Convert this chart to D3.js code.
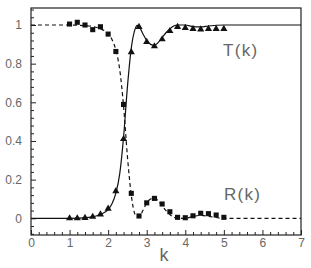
<!DOCTYPE html>
<html>
<head>
<meta charset="utf-8">
<script src="https://d3js.org/d3.v7.min.js"></script>
<style>
  body { margin: 0; background: #fff; }
  text { font-family: "Liberation Sans", Arial, sans-serif; }
</style>
</head>
<body>
<div id="chart"></div>
<script>
// measured points
const kPts = [1.0, 1.2, 1.4, 1.6, 1.8, 2.0, 2.2, 2.4, 2.6, 2.8, 3.0, 3.2, 3.4, 3.6, 3.8, 4.0, 4.2, 4.4, 4.6, 4.8, 5.0];
const tPts = [0.0, 0.0, 0.002, 0.008, 0.02, 0.05, 0.14, 0.41, 0.86, 0.99, 0.913, 0.89, 0.926, 0.969, 0.99, 0.985, 0.98, 0.977, 0.98, 0.98, 0.98];
const rPts = [1.005, 1.014, 1.0, 0.976, 0.991, 0.953, 0.863, 0.589, 0.129, 0.012, 0.08, 0.103, 0.074, 0.034, 0.005, 0.003, 0.013, 0.026, 0.024, 0.017, 0.005];

// theory curves
const kCurveT = [0, 0.5, 1.0, 1.5, 1.8, 2.0, 2.1, 2.2, 2.3, 2.4, 2.5, 2.6, 2.7, 2.75, 2.8, 2.9, 3.0, 3.1, 3.2, 3.3, 3.4, 3.5, 3.6, 3.7, 3.8, 4.0, 4.2, 4.4, 4.6, 5.0, 6.0, 7.0];
const tCurve = [0, 0, 0, 0.005, 0.02, 0.045, 0.075, 0.13, 0.23, 0.42, 0.68, 0.88, 0.98, 0.998, 0.993, 0.955, 0.92, 0.9, 0.895, 0.91, 0.935, 0.96, 0.98, 0.995, 1.0, 1.0, 0.992, 0.99, 0.995, 1.0, 1.0, 1.0];
const kCurveR = [0, 0.5, 1.0, 1.5, 1.8, 2.0, 2.1, 2.2, 2.3, 2.4, 2.5, 2.6, 2.7, 2.8, 2.9, 3.0, 3.1, 3.2, 3.3, 3.4, 3.5, 3.6, 3.7, 3.8, 4.0, 4.2, 4.4, 4.6, 5.0, 6.0, 7.0];
const rCurve = [1.0, 1.0, 1.0, 0.995, 0.98, 0.955, 0.925, 0.87, 0.77, 0.58, 0.32, 0.12, 0.02, 0.005, 0.04, 0.08, 0.1, 0.105, 0.09, 0.065, 0.04, 0.02, 0.005, 0.0, 0.0, 0.01, 0.015, 0.01, 0.0, 0.0, 0.0];

const xMajor = [0, 1, 2, 3, 4, 5, 6, 7];
const yMajor = [0, 0.2, 0.4, 0.6, 0.8, 1];

const width = 311, height = 268;
const margin = {top: 8, right: 10, bottom: 33, left: 31};

const svg = d3.select("#chart").append("svg")
    .attr("width", width)
    .attr("height", height);

const x = d3.scaleLinear().domain([0, 7]).range([margin.left, width - margin.right]);
const y = d3.scaleLinear().domain([-0.0864, 1.088]).range([height - margin.bottom, margin.top]);

// minor ticks
const xMinor = d3.range(0, 7.001, 0.2).filter(v => Math.abs(v - Math.round(v)) > 0.01);
const yMinor = d3.range(-0.08, 1.081, 0.04).filter(v => Math.abs(v * 5 - Math.round(v * 5)) > 0.01);

svg.append("g")
    .attr("transform", `translate(0,${height - margin.bottom})`)
    .call(d3.axisBottom(x).tickValues(xMinor).tickSize(-3).tickFormat(""))
    .call(g => g.select(".domain").remove());

svg.append("g")
    .attr("transform", `translate(${margin.left},0)`)
    .call(d3.axisLeft(y).tickValues(yMinor).tickSize(-3).tickFormat(""))
    .call(g => g.select(".domain").remove());

const xAxis = svg.append("g")
    .attr("transform", `translate(0,${height - margin.bottom})`)
    .call(d3.axisBottom(x).tickValues(xMajor).tickSize(-5).tickPadding(3).tickFormat(d3.format("d")));
xAxis.select(".domain").remove();
xAxis.selectAll("text").attr("font-size", 12).attr("fill", "#666");

const yAxis = svg.append("g")
    .attr("transform", `translate(${margin.left},0)`)
    .call(d3.axisLeft(y).tickValues(yMajor).tickSize(-5).tickPadding(9).tickFormat(d => d === 0 || d === 1 ? d : d3.format(".1f")(d)));
yAxis.select(".domain").remove();
yAxis.selectAll("text").attr("font-size", 12).attr("fill", "#666");

svg.selectAll(".tick line").attr("stroke", "#222");

// frame
svg.append("rect")
    .attr("x", margin.left)
    .attr("y", margin.top)
    .attr("width", width - margin.left - margin.right)
    .attr("height", height - margin.top - margin.bottom)
    .attr("fill", "none")
    .attr("stroke", "#222")
    .attr("stroke-width", 1.2);

const line = d3.line().x(d => x(d[0])).y(d => y(d[1])).curve(d3.curveMonotoneX);

svg.append("path")
    .datum(d3.zip(kCurveT, tCurve))
    .attr("d", line)
    .attr("fill", "none")
    .attr("stroke", "#111")
    .attr("stroke-width", 1.2);

svg.append("path")
    .datum(d3.zip(kCurveR, rCurve))
    .attr("d", line)
    .attr("fill", "none")
    .attr("stroke", "#111")
    .attr("stroke-width", 1.2)
    .attr("stroke-dasharray", "4,3");

// data markers
svg.selectAll(".tri")
    .data(d3.zip(kPts, tPts))
    .enter()
    .append("path")
    .attr("class", "tri")
    .attr("transform", d => `translate(${x(d[0])},${y(d[1])})`)
    .attr("d", d3.symbol().type(d3.symbolTriangle).size(22))
    .attr("fill", "#111");

svg.selectAll(".sq")
    .data(d3.zip(kPts, rPts))
    .enter()
    .append("path")
    .attr("class", "sq")
    .attr("transform", d => `translate(${x(d[0])},${y(d[1])})`)
    .attr("d", d3.symbol().type(d3.symbolSquare).size(26))
    .attr("fill", "#111");

// labels
svg.append("text")
    .attr("x", 223)
    .attr("y", 56)
    .attr("font-size", 17)
    .attr("letter-spacing", 1.3)
    .attr("fill", "#666")
    .text("T(k)");

svg.append("text")
    .attr("x", 224)
    .attr("y", 200)
    .attr("font-size", 17)
    .attr("letter-spacing", 1.3)
    .attr("fill", "#666")
    .text("R(k)");

svg.append("text")
    .attr("x", x(3.45))
    .attr("y", 261)
    .attr("text-anchor", "middle")
    .attr("font-size", 18)
    .attr("fill", "#666")
    .text("k");
</script>
</body>
</html>
